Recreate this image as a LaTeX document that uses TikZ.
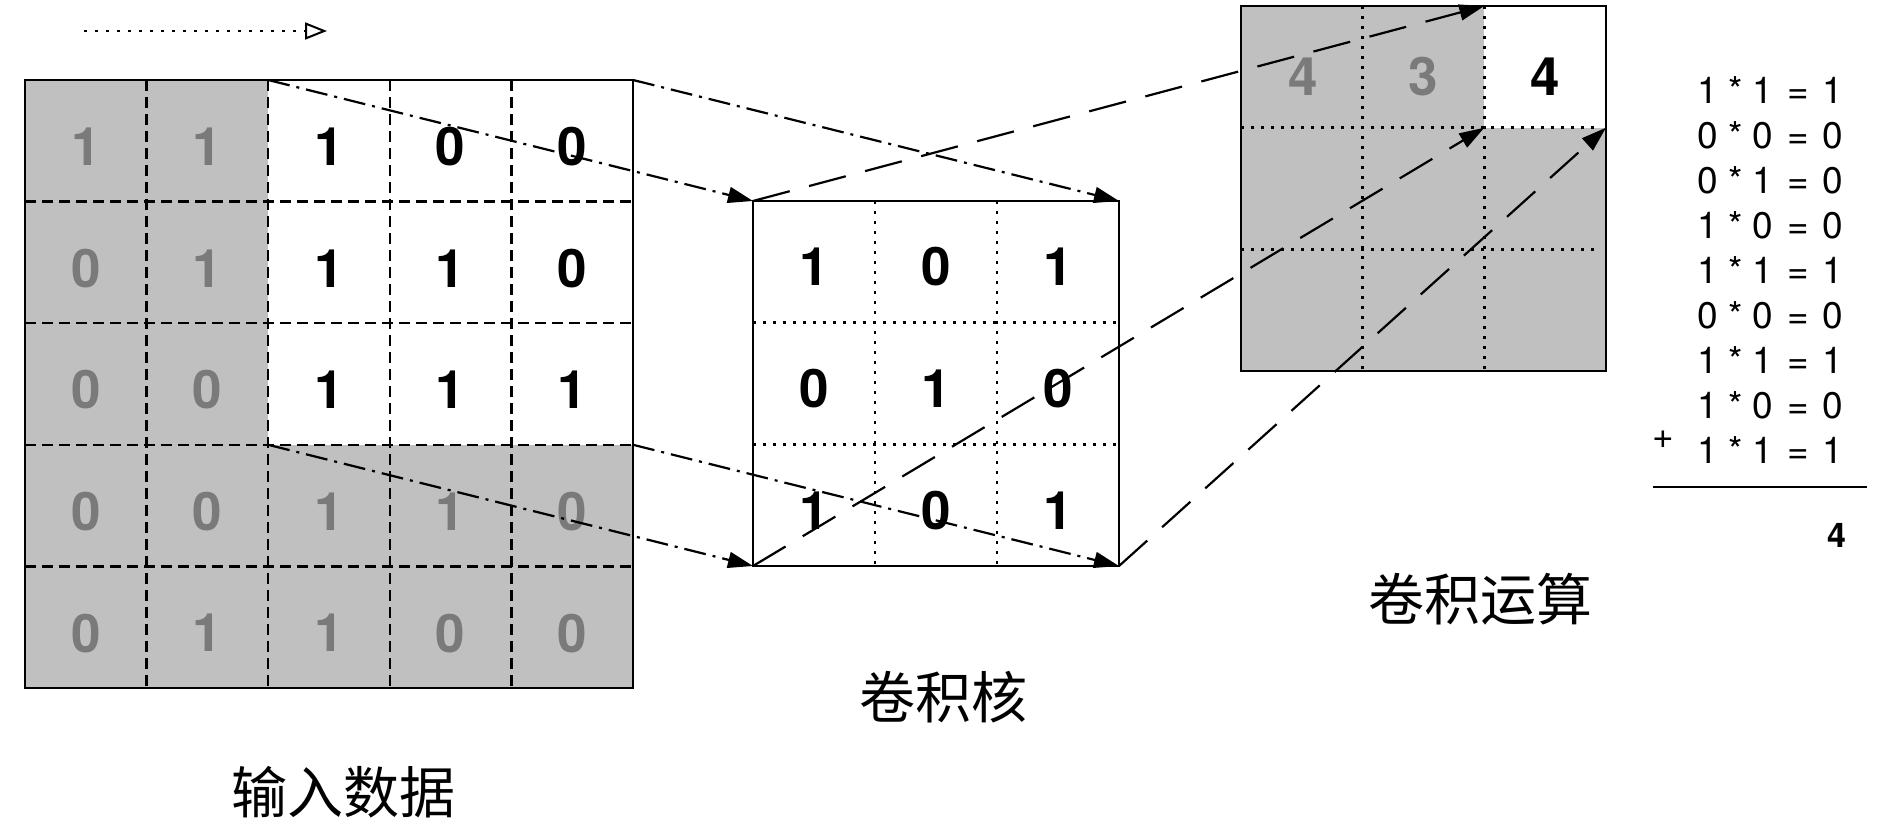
\documentclass[tikz,border=0pt]{standalone}
\usepackage{fontspec}
\setmainfont{TeX Gyre Heros}
\newfontfamily\cjkfont{Noto Sans CJK SC}
\usetikzlibrary{arrows.meta}
\definecolor{cellgray}{RGB}{192,192,192}
\definecolor{numgray}{RGB}{122,122,122}
\newcommand{\eqline}[3]{#1 * #2\hspace{3.5pt} = \hspace{3.5pt}#3}
\begin{document}
\begin{tikzpicture}[x=1pt,y=-1pt,
  box/.style={draw=none, inner sep=0pt, outer sep=0pt, anchor=north west},
  bignum/.style={font=\fontsize{53}{53}\selectfont\bfseries, inner sep=0pt},
  eqtext/.style={font=\fontsize{37}{37}\selectfont, inner sep=0pt, anchor=west},
  cjklabel/.style={font=\cjkfont\fontsize{56}{56}\selectfont, inner sep=0pt},
  border/.style={line width=2.5pt},
  indash/.style={line width=2.5pt, dash pattern=on 11pt off 6pt},
  kdot/.style={line width=2.7pt, dash pattern=on 2.7pt off 7.3pt},
  dashdotline/.style={line width=2.2pt, dash pattern=on 22pt off 7pt on 3pt off 7pt},
  longdash/.style={line width=2.2pt, dash pattern=on 38pt off 20pt},
  tip/.style={-{Triangle[length=25pt,width=16pt]}},
]
\useasboundingbox (0,0) rectangle (1890,827);

% ---------- input data ----------
\node[box, fill=cellgray, minimum width=608pt, minimum height=608pt] (inp) at (25,80) {};
\node[box, fill=white, minimum width=364.8pt, minimum height=364.8pt] (win) at (268.2,80) {};
\foreach \k in {1,...,4} {
  \draw[indash] ({25+\k*121.6},80) -- ({25+\k*121.6},688);
  \draw[indash] (25,{80+\k*121.6}) -- (633,{80+\k*121.6});
}
\draw[border] (inp.north west) rectangle (inp.south east);
\foreach \row [count=\r from 0] in {{1,1,1,0,0},{0,1,1,1,0},{0,0,1,1,1},{0,0,1,1,0},{0,1,1,0,0}} {
  \foreach \v [count=\c from 0] in \row {
    \pgfmathtruncatemacro\isw{and(\r<3,\c>1)}
    \ifnum\isw=1 \def\tc{black}\else\def\tc{numgray}\fi
    \node[bignum, text=\tc] (in-\r-\c) at ({25+(\c+0.5)*121.6},{80+(\r+0.5)*121.6+6}) {\v};
  }
}

% ---------- kernel ----------
\node[box, fill=white, minimum width=366pt, minimum height=365pt] (ker) at (753,201) {};
\foreach \k in {1,2} {
  \draw[kdot] ({753+\k*122},201) -- ({753+\k*122},566);
  \draw[kdot] (753,{201+\k*121.7}) -- (1119,{201+\k*121.7});
}
\draw[border] (ker.north west) rectangle (ker.south east);
\foreach \row [count=\r from 0] in {{1,0,1},{0,1,0},{1,0,1}} {
  \foreach \v [count=\c from 0] in \row {
    \node[bignum] (k-\r-\c) at ({753+(\c+0.5)*122},{201+(\r+0.5)*121.7+5}) {\v};
  }
}

% ---------- output ----------
\node[box, fill=cellgray, minimum width=365pt, minimum height=365pt] (out) at (1241,6) {};
\node[box, fill=white, minimum width=121.7pt, minimum height=121.7pt] (owin) at (1484.3,6) {};
\foreach \k in {1,2} {
  \draw[kdot] ({1241+\k*121.7},6) -- ({1241+\k*121.7},371);
  \draw[kdot] (1241,{6+\k*121.7}) -- (1598,{6+\k*121.7});
}
\draw[border] (out.north west) rectangle (out.south east);
\node[bignum, text=numgray] (o-0-0) at (1302.8,77) {4};
\node[bignum, text=numgray] (o-0-1) at (1423.5,77) {3};
\node[bignum] (o-0-2) at (1545.2,77) {4};

% ---------- equations ----------
\foreach \a/\b/\c [count=\i from 0] in {1/1/1,0/0/0,0/1/0,1/0/0,1/1/1,0/0/0,1/1/1,1/0/0,1/1/1} {
  \node[eqtext] (eq-\i) at (1697,{90.5+\i*44.9}) {\eqline{\a}{\b}{\c}};
}
\node[font=\fontsize{37}{37}\selectfont, inner sep=0pt] (plus) at (1663,440) {+};
\coordinate (rule-l) at (1653,487);
\coordinate (rule-r) at (1867,487);
\draw[line width=2pt] (rule-l) -- (rule-r);
\node[font=\fontsize{34}{34}\selectfont\bfseries, inner sep=0pt] (sum) at (1837,535) {4};

% ---------- labels ----------
\node[cjklabel] (l-in) at (343,792) {输入数据};
\node[cjklabel] (l-k) at (943,697) {卷积核};
\node[cjklabel] (l-o) at (1480,599) {卷积运算};

% ---------- top dotted arrow ----------
\coordinate (da) at (84,31);
\coordinate (db) at (327,31);
\draw[line width=2.5pt, dash pattern=on 2.5pt off 8.5pt, -{Triangle[open,length=22pt,width=17pt,line width=2pt]}] (da) -- (db);

% ---------- connectors ----------
\draw[dashdotline, tip] (win.north west) -- (ker.north west);
\draw[dashdotline, tip] (win.north east) -- (ker.north east);
\draw[dashdotline, tip] (win.south west) -- (ker.south west);
\draw[dashdotline, tip] (win.south east) -- (ker.south east);
\draw[longdash, tip] (ker.north west) -- (owin.north west);
\draw[longdash, tip] (ker.south west) -- (owin.south west);
\draw[longdash, tip] (ker.south east) -- (owin.south east);
\end{tikzpicture}
\end{document}
